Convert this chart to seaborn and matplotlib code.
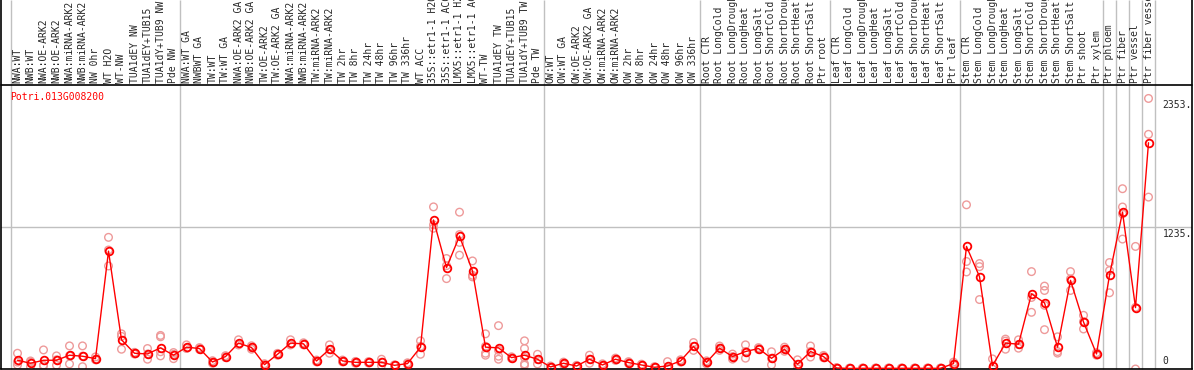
import pandas as pd
import matplotlib
matplotlib.use("Agg")
import matplotlib.pyplot as plt
import seaborn as sns

gene = "Potri.013G008200"

samples = [
    "NWA:WT", "NWB:WT", "NWA:OE-ARK2", "NWB:OE-ARK2", "NWA:miRNA-ARK2", "NWB:miRNA-ARK2",
    "NW 0hr", "WT H2O", "WT-NW", "TUA1dEY NW", "TUA1dEY+TUB15", "TUA1dY+TUB9 NW", "Pde NW",
    "NWA:WT GA", "NWBWT GA", "TW:WT", "TW:WT GA", "NWA:OE-ARK2 GA", "NWB:OE-ARK2 GA",
    "TW:OE-ARK2", "TW:OE-ARK2 GA", "NWA:miRNA-ARK2", "NWB:miRNA-ARK2", "TW:miRNA-ARK2",
    "TW:miRNA-ARK2", "TW 2hr", "TW 8hr", "TW 24hr", "TW 48hr", "TW 96hr", "TW 336hr",
    "WT ACC", "35S::etr1-1 H2O", "35S::etr1-1 ACC", "LMX5::etr1-1 H2O", "LMX5::etr1-1 ACC",
    "WT-TW", "TUA1dEY TW", "TUA1dEY+TUB15", "TUA1dY+TUB9 TW", "Pde TW",
    "OW:WT", "OW:WT GA", "OW:OE-ARK2", "OW:OE-ARK2 GA", "OW:miRNA-ARK2", "OW:miRNA-ARK2",
    "OW 2hr", "OW 8hr", "OW 24hr", "OW 48hr", "OW 96hr", "OW 336hr",
    "Root CTR", "Root LongCold", "Root LongDrought", "Root LongHeat", "Root LongSalt",
    "Root ShortCold", "Root ShortDrought", "Root ShortHeat", "Root ShortSalt", "Ptr root",
    "Leaf CTR", "Leaf LongCold", "Leaf LongDrought", "Leaf LongHeat", "Leaf LongSalt",
    "Leaf ShortCold", "Leaf ShortDrought", "Leaf ShortHeat", "Leaf ShortSalt", "Ptr leaf",
    "Stem CTR", "Stem LongCold", "Stem LongDrought", "Stem LongHeat", "Stem LongSalt",
    "Stem ShortCold", "Stem ShortDrought", "Stem ShortHeat", "Stem ShortSalt", "Ptr shoot",
    "Ptr xylem", "Ptr phloem", "Ptr fiber", "Ptr vessel", "Ptr fiber vessel",
]

# index where each block of samples starts (plus the end)
group_starts = [0, 13, 41, 53, 63, 73, 84, 85, 86, 87, 88]

means = [
    76, 50, 76, 76, 120, 111, 90, 1025, 254, 137, 131, 184, 120,
    190, 178, 61, 108, 225, 187, 38, 128, 225, 219, 70, 172, 70, 58, 58, 58, 32, 47,
    190, 1296, 882, 1156, 852, 190, 184, 99, 120, 85,
    18, 50, 26, 85, 35, 85, 56, 35, 15, 26, 70, 196,
    58, 181, 108, 152, 178, 93, 172, 41, 152, 108,
    9, 5, 6, 6, 6, 6, 6, 6, 6, 47,
    1066, 803, 29, 225, 216, 654, 575, 190, 771, 409, 131,
    815, 1364, 534, 1968,
]

replicates = [
    [137, 35, 60], [20, 60, 70], [166, 33, 30], [114, 33, 80], [201, 44, 115],
    [201, 20, 112], [80, 105, 85], [1145, 896, 1035], [306, 172, 284], [137, 130, 145],
    [178, 85, 130], [292, 280, 114, 150], [143, 90, 127],
    [210, 180, 180], [178, 170, 186], [61, 50, 72], [108, 100, 116], [254, 210, 211],
    [187, 172, 202], [38, 30, 46], [128, 120, 136], [254, 210, 211], [219, 210, 228],
    [70, 62, 78], [210, 137, 169], [70, 62, 78], [58, 50, 66], [58, 52, 64],
    [85, 30, 59], [32, 28, 36], [47, 40, 54],
    [245, 128, 197], [1410, 1224, 1254], [961, 786, 899], [1364, 1101, 990, 1169],
    [940, 815, 801], [306, 137, 120, 197], [377, 111, 85, 163], [99, 92, 106],
    [245, 178, 100, 44, 33], [128, 44, 83],
    [18, 10, 26], [50, 40, 60], [26, 20, 32], [120, 85, 50], [35, 25, 45], [85, 75, 95],
    [56, 48, 64], [35, 28, 42], [15, 10, 20], [64, 10, 4], [70, 60, 80], [196, 230, 162],
    [58, 45, 71], [181, 200, 162], [108, 130, 86], [152, 210, 94], [178, 170, 186],
    [93, 150, 36], [172, 190, 154], [41, 80, 2], [152, 200, 104], [108, 118, 98],
    [9, 6, 12], [5, 2, 8], [6, 3, 9], [6, 3, 9], [6, 3, 9], [6, 3, 9], [6, 3, 9],
    [6, 3, 9], [6, 3, 9], [47, 60, 34],
    [1428, 935, 844], [917, 890, 604], [88, 0, 0], [260, 172, 243], [254, 181, 213],
    [847, 493, 622], [721, 683, 342, 554], [280, 152, 138], [847, 683, 783],
    [467, 348, 412], [131, 120, 142],
    [926, 856, 663], [1568, 1409, 1130, 1349], [1066, 0, 536], [2353, 2041, 1495],
]

y_ticks = [2353, 1235, 0]
y_tick_labels = ["2353.", "1235.", "0"]

df_mean = pd.DataFrame({"pos": range(len(samples)), "value": means})
df_rep = pd.DataFrame(
    [(i, v) for i, reps in enumerate(replicates) for v in reps],
    columns=["pos", "value"],
)

sns.set_style("white")
plt.rcParams["font.family"] = ["DejaVu Sans Mono"]

W, H = 1194, 370
fig = plt.figure(figsize=(W / 100, H / 100), dpi=100)
# plot area: x 1..1192 px, y 85..369 px
ax = fig.add_axes([1 / W, 1 / H, 1191 / W, 284 / H])

col_w, x0 = 13, 11
ax.set_xlim((1 - x0) / col_w - 0.5, (1192 - x0) / col_w - 0.5)
ax.set_ylim(0, 2470)

head = 85 / 284  # header height in axes units
ax.vlines([g - 0.5 for g in group_starts], 0, 1 + head, colors="#c0c0c0",
          linewidth=1, transform=ax.get_xaxis_transform(), clip_on=False, zorder=1)
ax.axhline(1235, color="#c0c0c0", linewidth=1, zorder=1)

sns.scatterplot(data=df_rep, x="pos", y="value", ax=ax, marker="o", s=30,
                facecolor="none", edgecolor="#ee9a9a", linewidth=1, zorder=2)
sns.lineplot(data=df_mean, x="pos", y="value", ax=ax, color="red", linewidth=1,
             marker="o", markersize=5.5, markerfacecolor="none",
             markeredgecolor="red", markeredgewidth=1.3, zorder=3)

for i, name in enumerate(samples):
    ax.text(i, 1 + 2 / 284, name, rotation=90, ha="center", va="bottom",
            fontsize=7, transform=ax.get_xaxis_transform(), clip_on=False)

# header bottom border and side borders
ax.plot([0, 1], [1, 1], color="black", linewidth=1.2, transform=ax.transAxes, clip_on=False)
ax.plot([0, 0], [0, 1 + head + 0.01], color="black", linewidth=1.2,
        transform=ax.transAxes, clip_on=False)
ax.plot([1, 1], [0, 1 + head + 0.01], color="black", linewidth=1.2,
        transform=ax.transAxes, clip_on=False)

for v, lab in zip(y_ticks, y_tick_labels):
    va = "bottom" if v == 0 else "top"
    ax.text(88.1, v + (25 if v == 0 else -15), lab, ha="left", va=va, fontsize=7)

fig.text(10 / W, 1 - 97 / H, gene, color="red", fontsize=7, ha="left", va="center")

ax.set_xlabel("")
ax.set_ylabel("")
ax.set_xticks([])
ax.set_yticks([])
for side in ["top", "left", "right"]:
    ax.spines[side].set_visible(False)
ax.spines["bottom"].set_color("black")
ax.spines["bottom"].set_linewidth(1.2)

fig.savefig("out.png", dpi=100)
